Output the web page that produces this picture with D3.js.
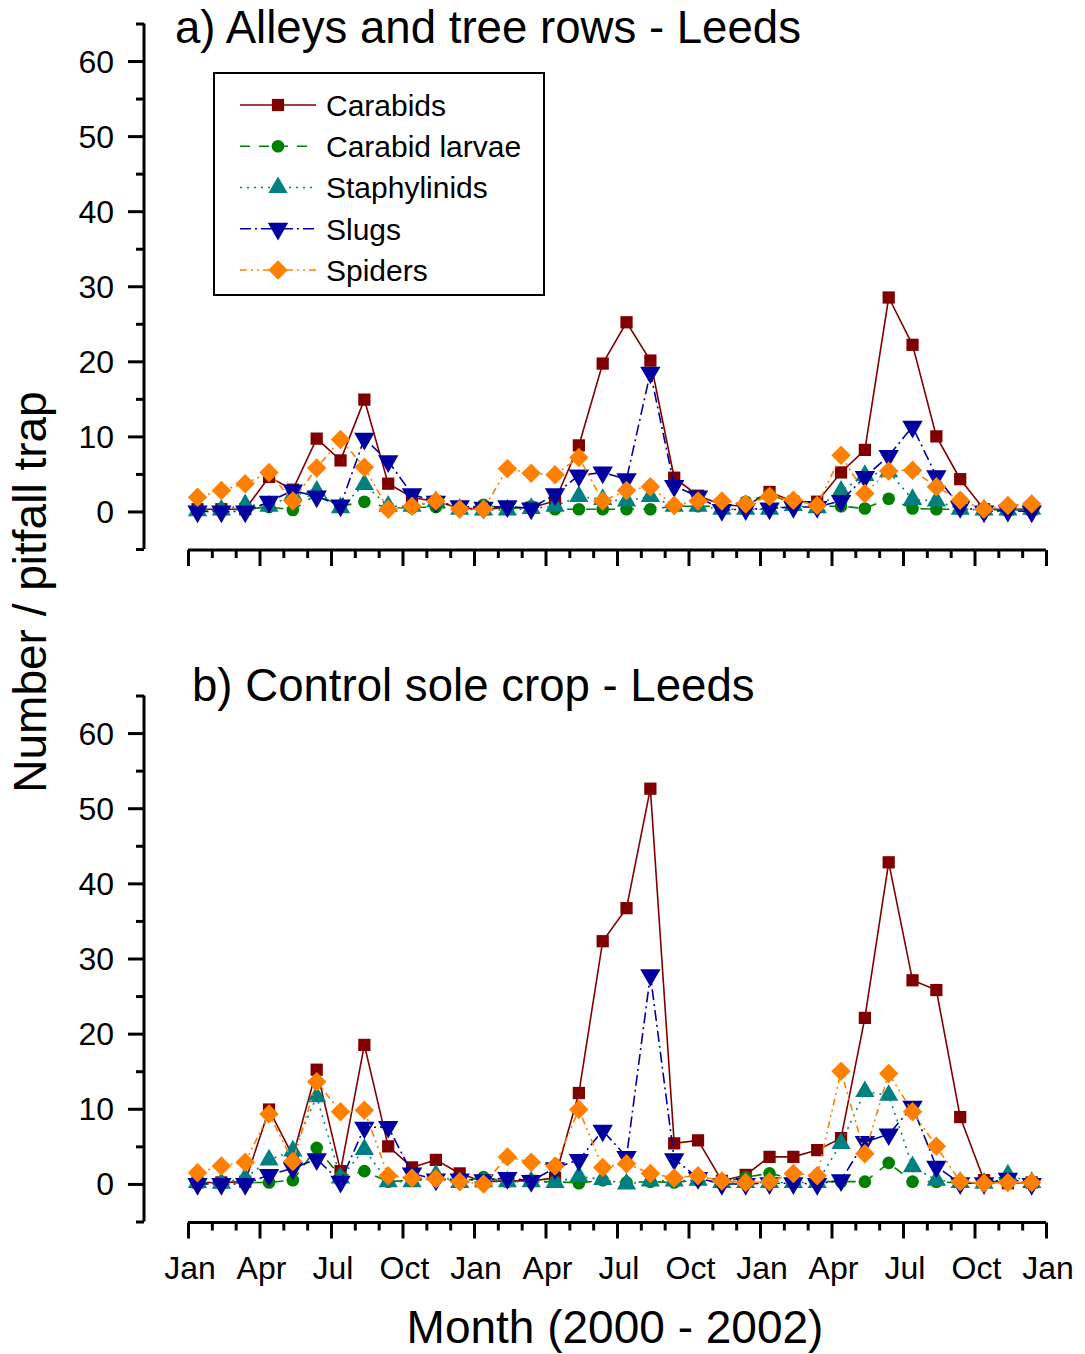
<!DOCTYPE html>
<html>
<head>
<meta charset="utf-8">
<script src="https://cdn.jsdelivr.net/npm/d3@7"></script>
<style>
  html, body { margin: 0; padding: 0; background: #fff; }
  svg { display: block; font-family: "Liberation Sans", Arial, sans-serif; }
</style>
</head>
<body>
<div id="chart"></div>
<script>
// sampling months, Jan 2000 .. Dec 2002 (one trap emptying per month)
const sampleMonths = [
  "Jan 2000","Feb 2000","Mar 2000","Apr 2000","May 2000","Jun 2000","Jul 2000","Aug 2000","Sep 2000","Oct 2000","Nov 2000","Dec 2000",
  "Jan 2001","Feb 2001","Mar 2001","Apr 2001","May 2001","Jun 2001","Jul 2001","Aug 2001","Sep 2001","Oct 2001","Nov 2001","Dec 2001",
  "Jan 2002","Feb 2002","Mar 2002","Apr 2002","May 2002","Jun 2002","Jul 2002","Aug 2002","Sep 2002","Oct 2002","Nov 2002","Dec 2002"
];
const monthTickLabels = ["Jan","Apr","Jul","Oct","Jan","Apr","Jul","Oct","Jan","Apr","Jul","Oct","Jan"];
const yTickValues = [0, 10, 20, 30, 40, 50, 60];
const seriesNames = ["Carabids", "Carabid larvae", "Staphylinids", "Slugs", "Spiders"];

// a) Alleys and tree rows - Leeds
const alleysCarabids = [0.3,0.3,0.3,4.6,2.9,9.7,6.8,14.9,3.7,1.9,1.3,0.5, 0.3,0.5,0.5,1.4,8.8,19.7,25.2,20.1,4.5,2.1,0.9,0.7, 2.6,1.3,1.3,5.2,8.2,28.5,22.2,10.0,4.3,0.3,0.3,0.3];
const alleysLarvae   = [0.2,0.2,0.3,0.6,0.2,2.3,0.7,1.3,0.5,0.5,0.6,0.3, 0.9,0.3,0.7,0.3,0.3,0.3,0.3,0.3,0.7,0.7,0.7,1.3, 2.3,1.0,0.7,0.7,0.4,1.7,0.4,0.3,0.3,0.2,0.2,0.3];
const alleysStaph    = [0.1,0.2,0.9,0.7,2.2,2.7,0.5,3.6,0.7,0.7,1.3,0.3, 0.2,0.2,0.4,0.7,2.0,1.6,1.4,2.0,0.7,0.7,0.3,0.3, 0.3,0.8,0.5,2.7,4.8,5.3,1.6,1.4,0.3,0.2,0.2,0.3];
const alleysSlugs    = [0.0,0.0,0.0,1.3,2.8,2.0,0.8,9.7,6.7,2.3,1.3,0.7, 0.5,0.7,0.4,2.3,4.8,5.2,4.3,18.5,3.4,2.0,0.2,0.3, 0.4,0.6,0.6,1.4,4.6,7.4,11.3,4.7,0.6,0.0,0.1,0.0];
const alleysSpiders  = [1.9,2.8,3.7,5.2,1.4,5.8,9.6,5.9,0.3,0.7,1.4,0.3, 0.3,5.7,5.1,4.9,7.2,1.4,2.8,3.3,0.8,1.4,1.4,1.0, 2.0,1.5,0.8,7.5,2.4,5.4,5.5,3.3,1.5,0.3,0.8,1.0];

// b) Control sole crop - Leeds
const controlCarabids = [0.2,0.2,0.3,9.9,3.7,15.2,1.7,18.5,5.0,2.2,3.2,1.4, 0.3,0.4,0.4,0.8,12.1,32.3,36.7,52.6,5.4,5.8,0.4,1.2, 3.6,3.6,4.5,6.1,22.1,42.8,27.1,25.8,8.9,0.5,0.1,0.2];
const controlLarvae   = [0.2,0.1,0.2,0.2,0.5,4.8,1.0,1.7,0.3,0.5,0.6,0.3, 0.9,0.3,0.3,0.3,0.1,0.5,0.2,0.3,0.2,0.5,0.2,0.9, 1.4,0.7,0.3,0.3,0.3,2.8,0.3,0.3,0.1,0.1,0.2,0.2];
const controlStaph    = [0.2,0.1,0.8,3.2,4.4,11.6,0.8,4.6,0.3,0.3,1.2,0.2, 0.3,0.3,0.3,0.2,1.0,0.6,0.0,0.4,0.4,0.5,0.2,0.2, 0.2,0.2,0.2,5.4,12.3,11.8,2.3,0.5,0.2,0.1,1.2,0.2];
const controlSlugs    = [0.0,0.0,0.0,1.2,2.1,3.3,0.3,7.5,7.6,1.4,0.6,0.6, 0.5,0.8,0.4,2.1,3.2,7.1,3.6,27.8,3.3,0.8,0.0,0.0, 0.1,0.1,0.0,0.5,5.6,6.6,10.3,2.3,0.1,0.1,0.7,0.0];
const controlSpiders  = [1.5,2.4,2.9,9.3,3.0,13.6,9.6,9.8,1.1,0.8,0.7,0.3, 0.0,3.6,2.9,2.4,9.9,2.2,2.7,1.4,0.8,1.1,0.4,0.2, 0.3,1.4,1.1,15.0,4.0,14.7,9.6,5.0,0.3,0.1,0.2,0.2];

const width = 1085, height = 1354;

// look of each series (Origin style)
const styles = [
  { color: "#800000", dash: null,               shape: "square" },
  { color: "#008000", dash: "10,9",             shape: "circle" },
  { color: "#008080", dash: "2,5",              shape: "up" },
  { color: "#0000a0", dash: "11,4,2,4",         shape: "down" },
  { color: "#ff8000", dash: "7,4,2,4,2,4",      shape: "diamond" }
];

function marker(shape) {
  if (shape === "square") return { d: d3.symbol(d3.symbolSquare, 150)(), rot: 0 };
  if (shape === "circle") return { d: d3.symbol(d3.symbolCircle, 125)(), rot: 0 };
  if (shape === "up") return { d: d3.symbol(d3.symbolTriangle, 160)(), rot: 0 };
  if (shape === "down") return { d: d3.symbol(d3.symbolTriangle, 180)(), rot: 180 };
  return { d: d3.symbol(d3.symbolSquare, 190)(), rot: 45 };
}

const svg = d3.select("#chart").append("svg")
  .attr("width", width)
  .attr("height", height);

const x = d3.scaleLinear().domain([0, 36]).range([188, 1046]);
const monthPos = i => x(i + 0.4); // traps emptied around mid-month

const panels = [
  { title: "a) Alleys and tree rows - Leeds", titleX: 175, titleY: 43, top: 23.5, bottom: 549,
    data: [alleysCarabids, alleysLarvae, alleysStaph, alleysSlugs, alleysSpiders], labels: false },
  { title: "b) Control sole crop - Leeds", titleX: 192, titleY: 701, top: 695.5, bottom: 1221.5,
    data: [controlCarabids, controlLarvae, controlStaph, controlSlugs, controlSpiders], labels: true }
];

panels.forEach(p => {
  const y = d3.scaleLinear().domain([-5, 65]).range([p.bottom, p.top]);
  const g = svg.append("g");

  // y axis
  const yAxis = g.append("g")
    .attr("transform", "translate(144,0)")
    .call(d3.axisLeft(y).tickValues(d3.range(-5, 66, 5)).tickSize(0).tickFormat(""));
  yAxis.select(".domain").attr("stroke", "#000").attr("stroke-width", 3).attr("d", `M0,${p.top}V${p.bottom}`);
  yAxis.selectAll(".tick line")
    .attr("stroke", "#000").attr("stroke-width", 3)
    .attr("x2", d => yTickValues.includes(d) ? -16 : -8);
  g.selectAll(".ylab").data(yTickValues).join("text")
    .attr("x", 114).attr("y", d => y(d))
    .attr("dy", "0.36em").attr("text-anchor", "end")
    .attr("font-size", 32).text(d => d);

  // x axis
  const axisY = p.bottom + 1;
  const xAxis = g.append("g")
    .attr("transform", `translate(0,${axisY})`)
    .call(d3.axisBottom(x).tickValues(d3.range(0, 37)).tickSize(0).tickFormat(""));
  xAxis.select(".domain").attr("stroke", "#000").attr("stroke-width", 3).attr("d", `M${x(0)},0H${x(36)}`);
  xAxis.selectAll(".tick line")
    .attr("stroke", "#000").attr("stroke-width", 3)
    .attr("y2", d => d % 3 === 0 ? 16 : 8);
  if (p.labels) {
    g.selectAll(".xlab").data(monthTickLabels).join("text")
      .attr("x", (d, i) => x(i * 3) + 2).attr("y", axisY + 56)
      .attr("text-anchor", "middle").attr("font-size", 32).text(d => d);
  }

  // title
  g.append("text").attr("x", p.titleX).attr("y", p.titleY)
    .attr("font-size", 45.6).text(p.title);

  // series: line then symbols, Carabids drawn first
  p.data.forEach((vals, k) => {
    const st = styles[k];
    const line = d3.line().x((d, i) => monthPos(i)).y(d => y(d));
    g.append("path").datum(vals)
      .attr("fill", "none").attr("stroke", st.color).attr("stroke-width", 1.6)
      .attr("stroke-dasharray", st.dash)
      .attr("d", line);
    const m = marker(st.shape);
    g.append("g").selectAll("path").data(vals).join("path")
      .attr("d", m.d)
      .attr("fill", st.color)
      .attr("transform", (d, i) => `translate(${monthPos(i)},${y(d)}) rotate(${m.rot})`);
  });
});

// legend
const legend = svg.append("g");
legend.append("rect").attr("x", 214).attr("y", 73).attr("width", 330).attr("height", 222)
  .attr("fill", "#fff").attr("stroke", "#000").attr("stroke-width", 2);
const legendY = d3.scalePoint().domain(seriesNames).range([105, 270]);
seriesNames.forEach((name, k) => {
  const st = styles[k];
  const ly = legendY(name);
  legend.append("line").attr("x1", 240).attr("x2", 316).attr("y1", ly).attr("y2", ly)
    .attr("stroke", st.color).attr("stroke-width", 1.6).attr("stroke-dasharray", st.dash);
  const m = marker(st.shape);
  legend.append("path").attr("d", m.d).attr("fill", st.color)
    .attr("transform", `translate(278,${ly}) rotate(${m.rot})`);
  legend.append("text").attr("x", 326).attr("y", ly).attr("dy", "0.36em")
    .attr("font-size", 30).text(name);
});

// axis titles
svg.append("text")
  .attr("transform", "translate(46,592) rotate(-90)")
  .attr("text-anchor", "middle").attr("font-size", 46)
  .text("Number / pitfall trap");
svg.append("text")
  .attr("x", 615).attr("y", 1343)
  .attr("text-anchor", "middle").attr("font-size", 46)
  .text("Month (2000 - 2002)");
</script>
</body>
</html>
